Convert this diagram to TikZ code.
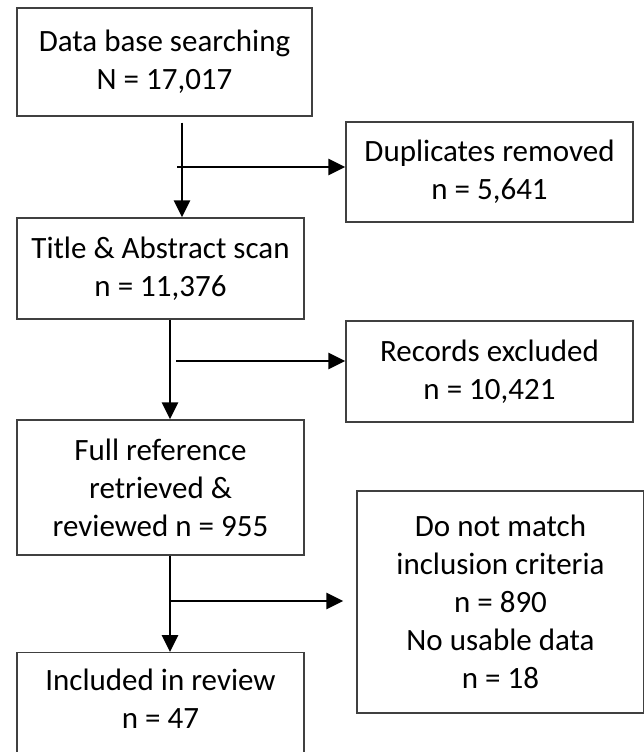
\documentclass[tikz,border=0pt]{standalone}
\usepackage{fontspec}
\setmainfont{Carlito}
\usepackage{tikz}
\usetikzlibrary{arrows.meta}

\begin{document}
\begin{tikzpicture}[x=1pt,y=-1pt,
    box/.style={draw=black!75, line width=1.4pt, align=center, inner sep=0pt,
        font=\fontsize{31}{38}\selectfont},
    flow/.style={line width=2.7pt, -{Triangle[length=17pt,width=16pt]}}]
    \useasboundingbox (0,0) rectangle (643,752);
    % Draw the main column of boxes
    \node (data) [box, minimum width=295, minimum height=108] at (164.5,62)
        {Data base searching\\N = 17,017};
    \node (title) [box, minimum width=287, minimum height=101] at (160.5,268.5)
        {Title \& Abstract scan\\n = 11,376};
    \node (full) [box, minimum width=287, minimum height=135] at (160.5,487.5)
        {Full reference\\retrieved \&\\reviewed n = 955};
    \node (incl) [box, minimum width=287, anchor=north, inner ysep=16pt] at (160.5,652)
        {Included in review\\n = 47\rule[-60pt]{0pt}{0pt}};
    % Draw the boxes of what was taken out
    \node (dup) [box, minimum width=287, minimum height=100] at (489.5,172)
        {Duplicates removed\\n = 5,641};
    \node (rec) [box, minimum width=287, minimum height=101] at (489.5,371.5)
        {Records excluded\\n = 10,421};
    \node (crit) [box, minimum width=287, minimum height=222] at (500.5,602)
        {Do not match\\inclusion criteria\\n = 890\\No usable data\\n = 18};
    % Draw the arrows, with a branch off each one
    \coordinate (j1) at (182,167);
    \coordinate (j2) at (170,361);
    \coordinate (j3) at (170,601);
    \draw[flow] ([yshift=-6pt]data.south -| j1) -- (title.north -| j1);
    \draw[flow] ([xshift=-5pt]j1) -- (dup.west |- j1);
    \draw[flow] (title.south -| j2) -- (full.north -| j2);
    \draw[flow] ([xshift=6pt]j2) -- (rec.west |- j2);
    \draw[flow] (full.south -| j3) -- (incl.north -| j3);
    \draw[flow] (j3) -- ([xshift=-13pt]crit.west |- j3);
\end{tikzpicture}
\end{document}
